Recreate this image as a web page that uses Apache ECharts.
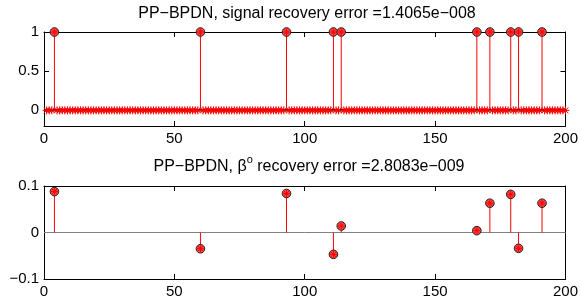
<!DOCTYPE html>
<html><head><meta charset="utf-8">
<script src="https://cdn.jsdelivr.net/npm/echarts@6/dist/echarts.min.js"></script>
<style>html,body{margin:0;padding:0;background:#fff}#c{width:581px;height:301px}</style>
</head><body><div id="c"></div>
<script>
// ---- data ----
const nPoints = 200;
const spikeIdx = [4, 60, 93, 111, 114, 166, 171, 179, 182, 191];
const signalVals = [1, 1, 1, 1, 1, 1, 1, 1, 1, 1];
const betaVals = [0.088, -0.035, 0.084, -0.047, 0.014, 0.004, 0.063, 0.082, -0.034, 0.063];
const xTicks = [0, 50, 100, 150, 200];
const topYTicks = [0, 0.5, 1];
const botYTicks = [-0.1, 0, 0.1];
const title1 = 'PP\u2212BPDN, signal recovery error =1.4065e\u2212008';
const title2 = '{m|PP\u2212BPDN, \u03b2}{sup|o}{m| recovery error =2.8083e\u2212009}';

// full signal vector: zeros except at spikes
const topData = [];
for (let n = 1; n <= nPoints; n++) {
  const k = spikeIdx.indexOf(n);
  topData.push([n, k >= 0 ? signalVals[k] : 0]);
}
const botData = spikeIdx.map((x, i) => [x, betaVals[i]]);

const FONT = 'Liberation Sans, Arial, sans-serif';
const fmt = v => String(v).replace('-', '\u2212');

function star(cx, cy, r, color) {
  const d = r * 0.72;
  const segs = [[cx - r, cy, cx + r, cy], [cx, cy - r, cx, cy + r],
    [cx - d, cy - d, cx + d, cy + d], [cx - d, cy + d, cx + d, cy - d]];
  return segs.map(s => ({type: 'line', shape: {x1: s[0], y1: s[1], x2: s[2], y2: s[3]},
    style: {stroke: color, lineWidth: 1}}));
}

function stemRender(params, api) {
  const x = api.value(0), y = api.value(1);
  const p0 = api.coord([x, 0]);
  const p1 = api.coord([x, y]);
  const ch = [];
  if (y !== 0) {
    ch.push({type: 'line', shape: {x1: p0[0], y1: p0[1], x2: p1[0], y2: p1[1]},
      style: {stroke: '#ff0000', lineWidth: 1}});
    ch.push({type: 'circle', shape: {cx: p1[0], cy: p1[1], r: 4.3},
      style: {fill: '#ff4848', stroke: '#222', lineWidth: 1}});
    ch.push(...star(p1[0], p1[1], 3.5, '#ff0000'));
  } else {
    ch.push(...star(p1[0], p1[1], 4, '#ff0000'));
  }
  return {type: 'group', children: ch};
}

function xAx(grid, pos, labels) {
  return {type: 'value', gridIndex: grid, position: pos, min: 0, max: 200, interval: 50,
    axisLine: {show: true, onZero: false, lineStyle: {color: '#000', width: 1}},
    axisTick: {show: true, inside: true, length: 5, lineStyle: {color: '#000'}},
    axisLabel: {show: labels, color: '#000', fontSize: 15, fontFamily: FONT, margin: 5},
    splitLine: {show: false}};
}
function yAx(grid, pos, labels, min, max, ticks) {
  return {type: 'value', gridIndex: grid, position: pos, min: min, max: max,
    axisLine: {show: true, onZero: false, lineStyle: {color: '#000', width: 1}},
    axisTick: {show: true, inside: true, length: 5, customValues: ticks, lineStyle: {color: '#000'}},
    axisLabel: {show: labels, customValues: ticks, formatter: fmt, color: '#000', fontSize: 15, fontFamily: FONT, margin: 5},
    splitLine: {show: false}};
}

const chart = echarts.init(document.getElementById('c'), null, {renderer: 'canvas'});
chart.setOption({
  animation: false,
  backgroundColor: '#fff',
  title: [
    {text: title1, left: 307, top: 6, textAlign: 'center', padding: 0,
      textStyle: {fontSize: 16, fontWeight: 'normal', fontFamily: FONT, color: '#000'}},
    {text: title2, left: 309, top: 154, textAlign: 'center', padding: 0,
      textStyle: {fontSize: 16, fontWeight: 'normal', fontFamily: FONT, color: '#000',
        rich: {
          m: {fontSize: 16, fontFamily: FONT, color: '#000', lineHeight: 26, verticalAlign: 'middle'},
          sup: {fontSize: 11, fontFamily: FONT, color: '#000', verticalAlign: 'top', lineHeight: 12}
        }}}
  ],
  grid: [
    {left: 44, top: 32, width: 523, height: 94, show: false},
    {left: 44, top: 186, width: 523, height: 93, show: false}
  ],
  xAxis: [xAx(0, 'bottom', true), xAx(0, 'top', false), xAx(1, 'bottom', true), xAx(1, 'top', false)],
  yAxis: [yAx(0, 'left', true, -0.2, 1, topYTicks), yAx(0, 'right', false, -0.2, 1, topYTicks),
    yAx(1, 'left', true, -0.1, 0.1, botYTicks), yAx(1, 'right', false, -0.1, 0.1, botYTicks)],
  series: [
    {type: 'line', xAxisIndex: 0, yAxisIndex: 0, data: [[0, 0], [200, 0]], symbol: 'none',
      lineStyle: {color: '#000', width: 2.5}, z: 1, silent: true},
    {type: 'custom', xAxisIndex: 0, yAxisIndex: 0, data: topData, renderItem: stemRender, z: 3, clip: false},
    {type: 'line', xAxisIndex: 2, yAxisIndex: 2, data: [[0, 0], [200, 0]], symbol: 'none',
      lineStyle: {color: '#808080', width: 1}, z: 1, silent: true},
    {type: 'custom', xAxisIndex: 2, yAxisIndex: 2, data: botData, renderItem: stemRender, z: 3, clip: false}
  ]
});
</script></body></html>
